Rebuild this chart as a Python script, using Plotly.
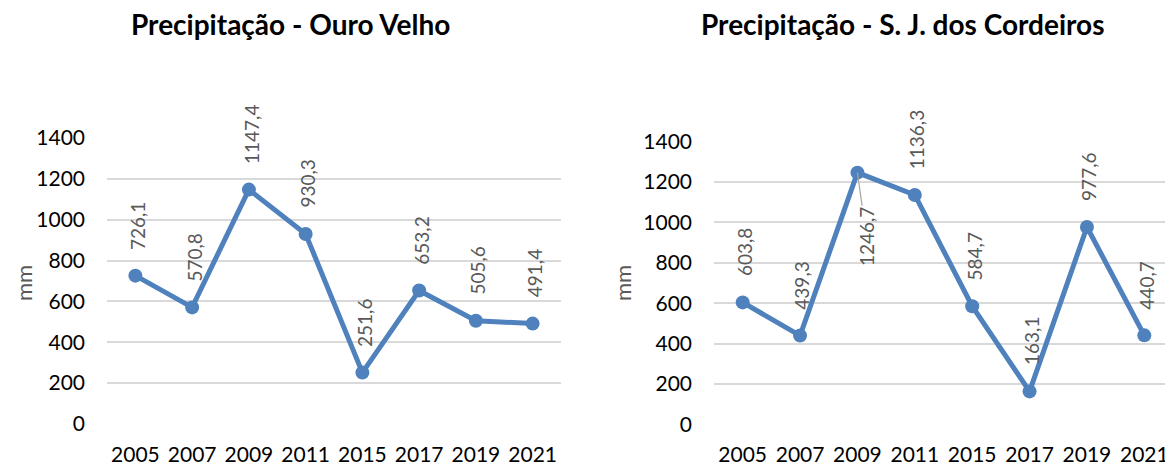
import plotly.graph_objects as go

years = ["2005", "2007", "2009", "2011", "2015", "2017", "2019", "2021"]
ouro_velho = [726.1, 570.8, 1147.4, 930.3, 251.6, 653.2, 505.6, 491.4]
sj_cordeiros = [603.8, 439.3, 1246.7, 1136.3, 584.7, 163.1, 977.6, 440.7]
y_ticks = [0, 200, 400, 600, 800, 1000, 1200, 1400]

titles = ["Precipitação - Ouro Velho", "Precipitação - S. J. dos Cordeiros"]

BLUE = "#4F81BD"
GRAY_TXT = "#595959"
GRID = "#D9D9D9"
FONT = "Lato"

# the page body has an 8px margin, so the figure is drawn 8px smaller
OFF = 8
W, H = 1173 - OFF, 468 - OFF


def px_x(x):
    return (x - OFF) / W


def px_y(y):
    return 1 - (y - OFF) / H


def fmt(v):
    return f"{v:.1f}".replace(".", ",")


fig = go.Figure()
for i, vals in enumerate([ouro_velho, sj_cordeiros]):
    sfx = "" if i == 0 else "2"
    fig.add_trace(go.Scatter(
        x=years, y=vals, mode="lines+markers",
        line=dict(color=BLUE, width=5),
        marker=dict(color=BLUE, size=14),
        xaxis="x" + sfx, yaxis="y" + sfx,
        cliponaxis=False, showlegend=False, hoverinfo="skip",
    ))

# labels that Excel moved below the point (with a leader line)
below = {(1, 2)}

annotations = []
for i, vals in enumerate([ouro_velho, sj_cordeiros]):
    sfx = "" if i == 0 else "2"
    for j, v in enumerate(vals):
        # x given as the category's serial number on the category axis
        a = dict(x=j, y=v, xref="x" + sfx, yref="y" + sfx, text=fmt(v),
                 textangle=-90, font=dict(family=FONT, size=19, color=GRAY_TXT))
        if (i, j) in below:
            a.update(showarrow=True, ax=9, ay=64, axref="pixel", ayref="pixel",
                     arrowhead=0, arrowwidth=1.2, arrowcolor="#A6A6A6", standoff=0)
        else:
            a.update(showarrow=False, xanchor="center", yanchor="bottom",
                     yshift=24, xshift=2)
        annotations.append(a)

# chart titles and y-axis titles
for cx, t in zip([290, 902], titles):
    annotations.append(dict(x=px_x(cx), y=px_y(24), xref="paper", yref="paper",
                            xanchor="center", yanchor="middle",
                            text=t, showarrow=False,
                            font=dict(family=FONT, size=28, color="black", weight="bold")))
for cx in [23, 622]:
    annotations.append(dict(x=px_x(cx), y=px_y(283), xref="paper", yref="paper",
                            xanchor="center", yanchor="middle",
                            text="mm", showarrow=False, textangle=-90,
                            font=dict(family=FONT, size=22, color=GRAY_TXT)))

xaxis_common = dict(type="category", range=[-0.5, 7.5], showgrid=False, zeroline=False,
                    showline=False, ticks="", ticklabelstandoff=16,
                    tickfont=dict(family=FONT, size=21, color="black"))
yaxis_common = dict(range=[0, 1400], tickvals=y_ticks, showgrid=True, gridcolor=GRID,
                    gridwidth=1.5, zeroline=False, showline=False, ticks="",
                    ticklabelstandoff=21,
                    tickfont=dict(family=FONT, size=21, color="black"))

fig.update_layout(
    width=W, height=H,
    margin=dict(l=0, r=0, t=0, b=0, autoexpand=False),
    paper_bgcolor="white", plot_bgcolor="white",
    xaxis=dict(domain=[px_x(107), px_x(561)], anchor="y", **xaxis_common),
    yaxis=dict(domain=[px_y(424), px_y(138)], anchor="x", **yaxis_common),
    xaxis2=dict(domain=[px_x(714), 1.0], anchor="y2", **xaxis_common),
    yaxis2=dict(domain=[px_y(424.3), px_y(141.7)], anchor="x2", **yaxis_common),
    annotations=annotations,
    font=dict(family=FONT),
)

fig.write_html("out.html")
